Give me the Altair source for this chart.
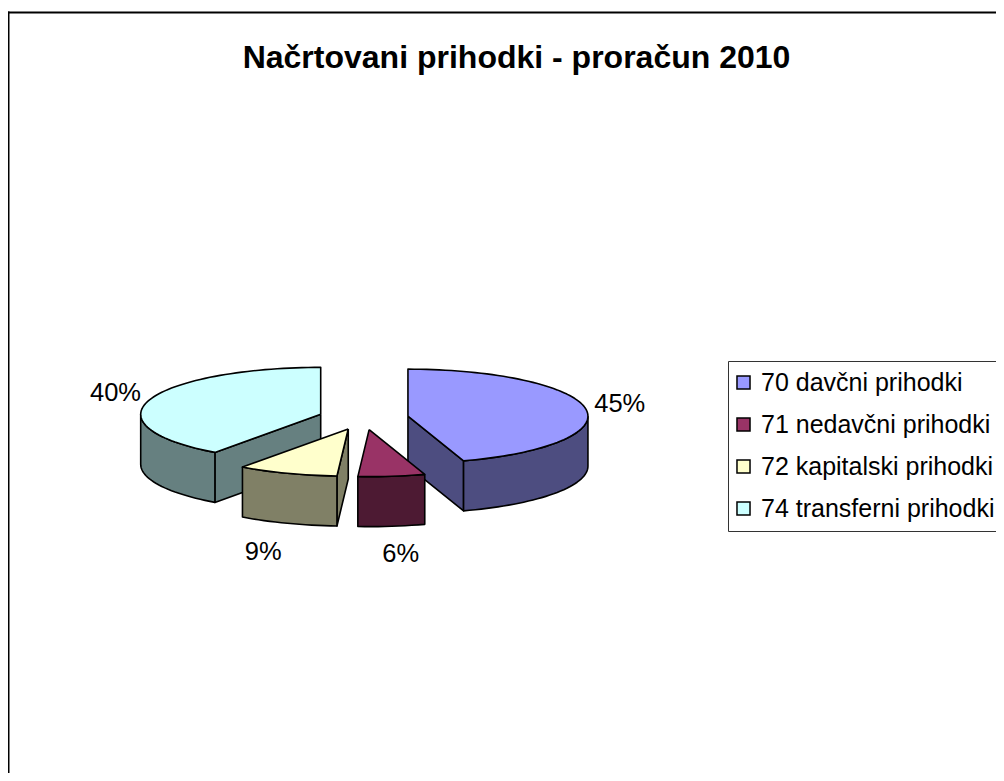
import math
import altair as alt
import pandas as pd

categories = ["70 davčni prihodki", "71 nedavčni prihodki", "72 kapitalski prihodki", "74 transferni prihodki"]
shares = [45, 6, 9, 40]
top_colors = ["#9999FF", "#993366", "#FFFFCC", "#CCFFFF"]
side_colors = ["#4D4D80", "#4D1A33", "#808066", "#668080"]
title_text = ["Načrtovani prihodki - proračun 2010"]

W, H = 988, 765
CX, CY, RX, RY, DEPTH, EXPLODE = 355.5, 410.0, 180.0, 47.0, 50.0, 0.25
FONT = "Liberation Sans"
LABEL_GAP = [(34, -5), (9, 28), (-24, 29), (-34, -7)]


def rim(cx, cy, deg):
    a = math.radians(deg)
    return cx + RX * math.sin(a), cy - RY * math.cos(a)


def arc(cx, cy, a0, a1):
    n = max(2, int(abs(a1 - a0) / 2) + 1)
    return [rim(cx, cy, a0 + (a1 - a0) * i / (n - 1)) for i in range(n)]


rows, labels, fid = [], [], 0


def add(points, fill):
    global fid
    for i, (x, y) in enumerate(points + points[:1]):
        rows.append({"fid": fid, "i": i, "x": x, "y": y, "fill": fill})
    fid += 1


slices, start = [], 0.0
for k, share in enumerate(shares):
    end = start + 3.6 * share
    mid = (start + end) / 2
    m = math.radians(mid)
    ax = CX + EXPLODE * RX * math.sin(m)
    ay = CY - EXPLODE * RY * math.cos(m)
    slices.append((k, start, end, mid, ax, ay))
    start = end

for k, a0, a1, mid, ax, ay in [slices[j] for j in (3, 0, 2, 1)]:
    top, side = top_colors[k], side_colors[k]
    for edge, normal in ((a0, a0 - 90), (a1, a1 + 90)):
        if math.cos(math.radians(normal)) < -1e-6:
            ex, ey = rim(ax, ay, edge)
            add([(ax, ay), (ex, ey), (ex, ey + DEPTH), (ax, ay + DEPTH)], side)
    s0, s1 = max(a0, 90), min(a1, 270)
    if s1 > s0:
        upper = arc(ax, ay, s0, s1)
        lower = [(x, y + DEPTH) for x, y in reversed(upper)]
        add(upper + lower, side)
    add([(ax, ay)] + arc(ax, ay, a0, a1), top)

for k, a0, a1, mid, ax, ay in slices:
    px, py = rim(ax, ay, mid)
    if math.cos(math.radians(mid)) < 0:
        py += DEPTH
    labels.append({"x": px + LABEL_GAP[k][0], "y": py + LABEL_GAP[k][1], "t": f"{shares[k]}%"})

df = pd.DataFrame(rows)
xs = alt.Scale(domain=[0, W])
ys = alt.Scale(domain=[0, H], reverse=True)

faces = alt.Chart(df).mark_line(stroke="black", strokeWidth=1.6, strokeJoin="round").encode(
    x=alt.X("x:Q", scale=xs, axis=None),
    y=alt.Y("y:Q", scale=ys, axis=None),
    detail="fid:N",
    order="i:Q",
    fill=alt.Fill("fill:N", scale=None),
)
legend_layer = alt.Chart(pd.DataFrame({"cat": categories})).mark_point(
    shape="square", filled=True, opacity=0, size=1
).encode(
    x=alt.value(-50),
    y=alt.value(-50),
    fill=alt.Fill(
        "cat:N",
        scale=alt.Scale(domain=categories, range=top_colors),
        legend=alt.Legend(
            title=None, orient="none", legendX=720, legendY=353, padding=9,
            fillColor="white", strokeColor="#333333",
            symbolType="square", symbolSize=170, symbolOpacity=1, symbolOffset=-6,
            symbolStrokeColor="black", symbolStrokeWidth=1.5,
            labelFont=FONT, labelFontSize=25, labelColor="black", labelLimit=400,
            labelOffset=5, rowPadding=16,
        ),
    ),
)
text = alt.Chart(pd.DataFrame(labels)).mark_text(font=FONT, fontSize=25.5, color="black").encode(
    x=alt.X("x:Q", scale=xs, axis=None),
    y=alt.Y("y:Q", scale=ys, axis=None),
    text="t:N",
)
title = alt.Chart(pd.DataFrame({"t": title_text})).mark_text(
    font=FONT, fontSize=32, fontWeight="bold", color="black", align="center", baseline="alphabetic"
).encode(x=alt.value(508.5), y=alt.value(60), text="t:N")
top_rule = alt.Chart(pd.DataFrame({"a": [0]})).mark_rule(color="black", strokeWidth=2).encode(
    x=alt.value(0), x2=alt.value(W), y=alt.value(4.5))
left_rule = alt.Chart(pd.DataFrame({"a": [0]})).mark_rule(color="black", strokeWidth=2).encode(
    x=alt.value(0.5), y=alt.value(3.5), y2=alt.value(H))

chart = alt.layer(top_rule, left_rule, title, faces, text, legend_layer).properties(
    width=W, height=H, padding=0, autosize=alt.AutoSizeParams(type="none"),
).configure_view(stroke=None)

chart.save("out.html", embed_options={"renderer": "svg", "actions": False})
